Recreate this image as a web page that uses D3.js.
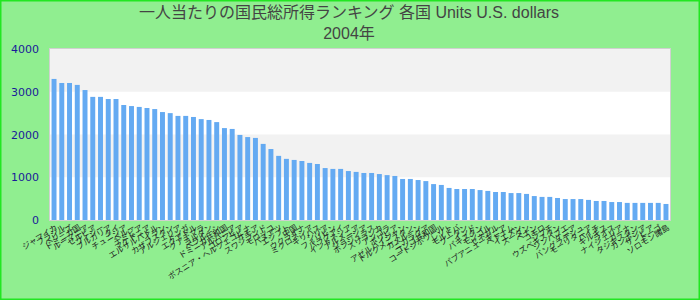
<!DOCTYPE html>
<html>
<head>
<meta charset="utf-8">
<script src="https://cdn.jsdelivr.net/npm/d3@7"></script>
<style>
  body { margin: 0; background: #90ee90; overflow: hidden; }
  svg { display: block; }
</style>
</head>
<body>
<svg width="700" height="300"></svg>
<script>
// タイトル
const titleLines = ["一人当たりの国民総所得ランキング 各国 Units U.S. dollars", "2004年"];

// カテゴリ（国名）
const countries = [
  "ジャマイカ", "ブラジル", "ベリーズ", "ドミニカ国", "ルーマニア", "セルビア", "フィジー", "ブルガリア", "タイ", "チュニジア",
  "ペルー", "ナミビア", "マケドニア", "エルサルバドル", "イラン", "カザフスタン", "アルジェリア", "トンガ", "エクアドル", "グアテマラ",
  "ヨルダン", "ベラルーシ", "ドミニカ共和国", "アルバニア", "コロンビア", "ボスニア・ヘルツェゴビナ", "サモア", "スワジランド", "モロッコ", "バヌアツ",
  "エジプト", "中国", "ウクライナ", "ミクロネシア", "キリバス", "シリア", "フィリピン", "パラグアイ", "インドネシア", "アルメニア",
  "ジョージア", "ホンジュラス", "スリランカ", "アンゴラ", "ボリビア", "アゼルバイジャン", "トルクメニスタン", "カメルーン", "ニカラグア", "コンゴ共和国",
  "コートジボワール", "レソト", "モルドバ", "ブータン", "インド", "パキスタン", "モンゴル", "セネガル", "パプアニューギニア", "ベトナム",
  "イエメン", "スーダン", "ベナン", "コモロ", "ジブチ", "ウズベキスタン", "ジンバブエ", "ケニア", "バングラデシュ", "モーリタニア",
  "ハイチ", "キルギス", "ラオス", "ナイジェリア", "ガーナ", "タジキスタン", "カンボジア", "ザンビア", "トーゴ", "ソロモン諸島"
];

// 値（米ドル）
const values = [
  3300, 3205, 3205, 3160, 3040, 2880, 2880, 2830, 2830, 2690,
  2665, 2645, 2620, 2595, 2525, 2500, 2435, 2435, 2410, 2360,
  2340, 2290, 2150, 2130, 1990, 1940, 1920, 1780, 1660, 1500,
  1430, 1405, 1380, 1335, 1310, 1215, 1195, 1195, 1145, 1125,
  1100, 1100, 1075, 1050, 1030, 960, 960, 935, 910, 840,
  820, 750, 725, 725, 725, 700, 680, 655, 655, 630,
  630, 610, 560, 540, 540, 515, 490, 490, 490, 470,
  445, 445, 420, 420, 400, 400, 400, 400, 400, 375
];

// 目盛り
const yTicks = [0, 1000, 2000, 3000, 4000];

const width = 700, height = 300;
const margin = { top: 49, right: 30, bottom: 80, left: 50 };
const innerWidth = width - margin.left - margin.right;
const innerHeight = height - margin.top - margin.bottom;

const svg = d3.select("svg");

// 外枠
svg.append("rect")
  .attr("x", 0.75).attr("y", 0.75)
  .attr("width", width - 1.5).attr("height", height - 1.5)
  .attr("fill", "#90ee90")
  .attr("stroke", "#22e622")
  .attr("stroke-width", 1.5);

// タイトル
svg.append("g").selectAll("text")
  .data(titleLines)
  .join("text")
  .attr("x", 349)
  .attr("y", (d, i) => 18 + i * 21)
  .attr("text-anchor", "middle")
  .attr("font-family", "'Liberation Sans', 'Noto Sans CJK JP', sans-serif")
  .attr("font-size", 16)
  .attr("fill", "#444")
  .text(d => d);

const x = d3.scaleBand()
  .domain(countries)
  .range([0, innerWidth])
  .paddingInner(0.36)
  .paddingOuter(0.2);

const y = d3.scaleLinear()
  .domain([0, 4000])
  .range([innerHeight, 0]);

const g = svg.append("g")
  .attr("transform", `translate(${margin.left}, ${margin.top})`);

// 背景（白）
g.append("rect")
  .attr("width", innerWidth)
  .attr("height", innerHeight)
  .attr("fill", "#fff");

// 交互の帯
g.selectAll(".band")
  .data([[1000, 2000], [3000, 4000]])
  .join("rect")
  .attr("class", "band")
  .attr("x", 0)
  .attr("width", innerWidth)
  .attr("y", d => y(d[1]))
  .attr("height", d => y(d[0]) - y(d[1]))
  .attr("fill", "#f2f2f2");

// 棒
g.selectAll(".bar")
  .data(values)
  .join("rect")
  .attr("class", "bar")
  .attr("x", (d, i) => x(countries[i]))
  .attr("width", x.bandwidth())
  .attr("y", d => y(d))
  .attr("height", d => innerHeight - y(d))
  .attr("fill", "#64aaf2");

// プロット枠
g.append("rect")
  .attr("x", -0.5).attr("y", -0.5)
  .attr("width", innerWidth + 1)
  .attr("height", innerHeight + 1)
  .attr("fill", "none")
  .attr("stroke", "#d0d0d0")
  .attr("stroke-width", 1);

// Y軸
const yAxis = g.append("g")
  .call(d3.axisLeft(y).tickValues(yTicks).tickFormat(d3.format("d")).tickSize(0).tickPadding(11));
yAxis.select(".domain").remove();
yAxis.selectAll("text")
  .attr("font-family", "'DejaVu Sans', sans-serif")
  .attr("font-size", 11)
  .attr("fill", "#1a1a99");

// X軸
const xAxis = g.append("g")
  .attr("transform", `translate(0, ${innerHeight})`)
  .call(d3.axisBottom(x).tickSize(0).tickPadding(0));
xAxis.select(".domain").remove();
xAxis.selectAll("text")
  .attr("font-family", "'Noto Sans CJK JP', sans-serif")
  .attr("font-size", 8)
  .attr("fill", "#222")
  .attr("text-anchor", "end")
  .attr("dy", null)
  .attr("y", 0)
  .attr("transform", "translate(4, 9) rotate(-32)");
</script>
</body>
</html>
